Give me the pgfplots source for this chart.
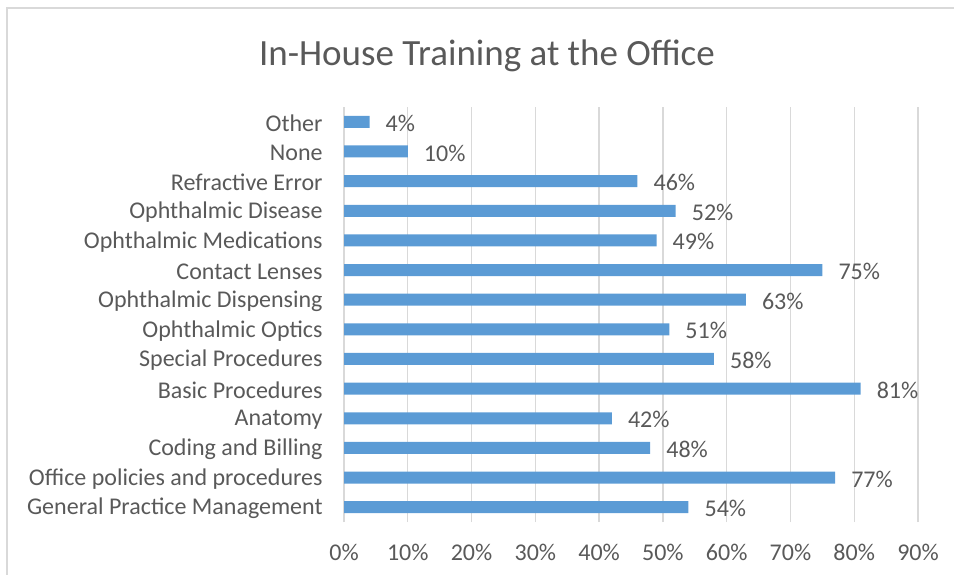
\documentclass[border=0pt]{standalone}
\usepackage{pgfplots}
\pgfplotsset{compat=1.18}
\usepackage{fontspec}
\setmainfont{Carlito}
\definecolor{barblue}{HTML}{5B9BD5}
\definecolor{txtgray}{HTML}{595959}
\definecolor{gridgray}{HTML}{D9D9D9}
\begin{document}
\begin{tikzpicture}[x=1bp,y=1bp]
\useasboundingbox (0,0) rectangle (954,-575);
\draw[gridgray, line width=2bp] (7,-580) -- (7,-8.5) -- (960,-8.5);
\node[txtgray, font=\fontsize{37bp}{44bp}\selectfont, anchor=base] at (487,-66) {In-House Training at the Office};
\begin{axis}[
  at={(344bp,-522bp)}, anchor=south west,
  scale only axis, width=574bp, height=415bp,
  xbar, bar width=12bp,
  xmin=0, xmax=90, ymin=-0.5, ymax=13.5,
  xtick={0,10,...,90},
  xticklabels={0\%,10\%,20\%,30\%,40\%,50\%,60\%,70\%,80\%,90\%},
  ytick={0,...,13},
  yticklabels={General Practice Management,Office policies and procedures,Coding and Billing,Anatomy,Basic Procedures,Special Procedures,Ophthalmic Optics,Ophthalmic Dispensing,Contact Lenses,Ophthalmic Medications,Ophthalmic Disease,Refractive Error,None,Other},
  xmajorgrids, grid style={gridgray, line width=1.3bp},
  axis line style={draw=none}, tick style={draw=none},
  tick label style={txtgray, font=\fontsize{24bp}{28bp}\selectfont},
  yticklabel style={inner sep=0pt, xshift=-17bp, yshift=-1.5bp},
  xticklabel style={inner sep=0pt, yshift=-22bp},
  clip=false,
  nodes near coords={\pgfmathprintnumber[assume math mode=true]{\pgfplotspointmeta}\%},
  nodes near coords style={txtgray, font=\fontsize{24bp}{28bp}\selectfont, anchor=west, inner sep=0pt, xshift=16bp, yshift=-1.5bp},
]
\addplot[fill=barblue, draw=none] coordinates {
(54,0) (77,1) (48,2) (42,3) (81,4) (58,5) (51,6) (63,7) (75,8) (49,9) (52,10) (46,11) (10,12) (4,13)
};
\end{axis}
\end{tikzpicture}
\end{document}
